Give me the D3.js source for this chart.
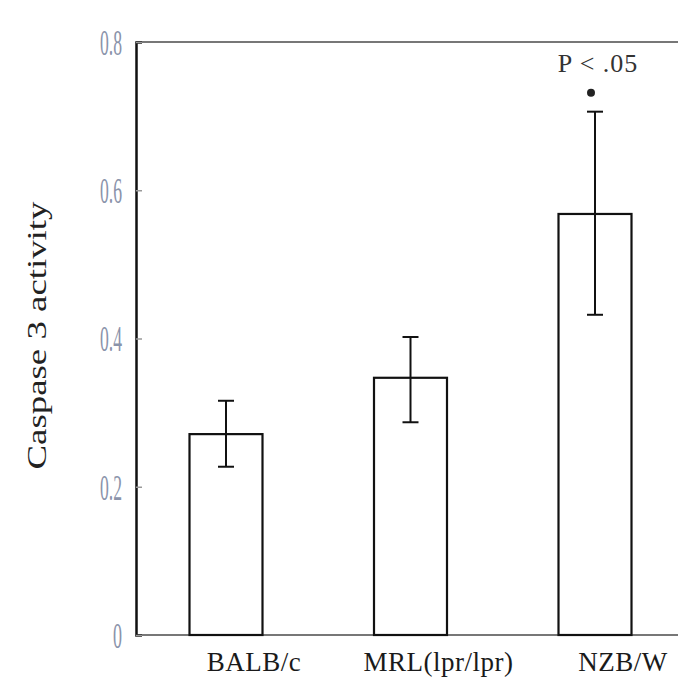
<!DOCTYPE html>
<meta charset="utf-8">
<style>
  body { margin: 0; background: #fff; }
  text { font-family: "Liberation Serif", "Times New Roman", serif; }
</style>
<svg id="chart" width="678" height="684"></svg>
<script src="https://d3js.org/d3.v7.min.js"></script>
<script>

var categories = ["BALB/c", "MRL(lpr/lpr)", "NZB/W"],
    means = [0.271, 0.347, 0.568],
    upper = [0.316, 0.402, 0.706],
    lower = [0.227, 0.287, 0.432],
    yTicks = [0, 0.2, 0.4, 0.6, 0.8],
    note = "P < .05",
    noteIndex = 2;

var svg = d3.select("#chart"),
    margin = {top: 42, right: 0, bottom: 49, left: 136},
    width = +svg.attr("width") - margin.left - margin.right,
    height = +svg.attr("height") - margin.top - margin.bottom,
    g = svg.append("g").attr("transform", "translate(" + margin.left + "," + margin.top + ")");

var x = d3.scalePoint()
    .domain(categories)
    .range([90, 459]);

var y = d3.scaleLinear()
    .domain([0, 0.8])
    .range([height, 0]);

var barWidth = 73,
    capWidth = 16;

var data = categories.map(function(c, i) {
  return {name: c, mean: means[i], hi: upper[i], lo: lower[i]};
});

// frame lines: top and bottom in grey
g.append("line")
    .attr("x1", 0).attr("x2", width)
    .attr("y1", 0).attr("y2", 0)
    .attr("stroke", "#777").attr("stroke-width", 2);

g.append("line")
    .attr("x1", 0).attr("x2", width)
    .attr("y1", height).attr("y2", height)
    .attr("stroke", "#777").attr("stroke-width", 2);

// y axis
var yAxis = g.append("g")
    .call(d3.axisLeft(y).tickValues(yTicks).tickSize(-6).tickPadding(14)
      .tickFormat(function(d) { return d === 0 ? "0" : d3.format(".1f")(d); }));

yAxis.select(".domain")
    .attr("stroke", "#111").attr("stroke-width", 2.5);

yAxis.selectAll(".tick line")
    .attr("stroke", "#999").attr("stroke-width", 1.5);

yAxis.selectAll(".tick text")
    .attr("font-size", 36)
    .attr("fill", "#8a93aa")
    .attr("dy", "0.34em")
    .attr("lengthAdjust", "spacingAndGlyphs")
    .attr("textLength", function(d) { return d === 0 ? 9 : 22; });

g.append("text")
    .attr("transform", "rotate(-90)")
    .attr("x", -height / 2 + 3)
    .attr("y", -90)
    .attr("text-anchor", "middle")
    .attr("font-size", 27)
    .attr("fill", "#222")
    .attr("lengthAdjust", "spacingAndGlyphs")
    .attr("textLength", 268)
    .text("Caspase 3 activity");

// bars
g.selectAll(".bar")
    .data(data)
  .enter().append("rect")
    .attr("class", "bar")
    .attr("x", function(d) { return x(d.name) - barWidth / 2; })
    .attr("y", function(d) { return y(d.mean); })
    .attr("width", barWidth)
    .attr("height", function(d) { return height - y(d.mean); })
    .attr("fill", "#fff")
    .attr("stroke", "#111")
    .attr("stroke-width", 2.2);

// error bars
var err = g.selectAll(".err")
    .data(data)
  .enter().append("g")
    .attr("class", "err")
    .attr("stroke", "#111")
    .attr("stroke-width", 2);

err.append("line")
    .attr("x1", function(d) { return x(d.name); })
    .attr("x2", function(d) { return x(d.name); })
    .attr("y1", function(d) { return y(d.hi); })
    .attr("y2", function(d) { return y(d.lo); });

err.append("line")
    .attr("x1", function(d) { return x(d.name) - capWidth / 2; })
    .attr("x2", function(d) { return x(d.name) + capWidth / 2; })
    .attr("y1", function(d) { return y(d.hi); })
    .attr("y2", function(d) { return y(d.hi); });

err.append("line")
    .attr("x1", function(d) { return x(d.name) - capWidth / 2; })
    .attr("x2", function(d) { return x(d.name) + capWidth / 2; })
    .attr("y1", function(d) { return y(d.lo); })
    .attr("y2", function(d) { return y(d.lo); });

// category labels
g.selectAll(".cat")
    .data(data)
  .enter().append("text")
    .attr("class", "cat")
    .attr("x", function(d) { return x(d.name) + 28; })
    .attr("y", height + 36)
    .attr("text-anchor", "middle")
    .attr("font-size", 27)
    .attr("letter-spacing", 0.5)
    .attr("fill", "#1a1a1a")
    .text(function(d) { return d.name; });

// significance mark
var s = data[noteIndex];

g.append("circle")
    .attr("cx", x(s.name) - 4)
    .attr("cy", y(s.hi) - 19)
    .attr("r", 4)
    .attr("fill", "#222");

g.append("text")
    .attr("x", x(s.name) + 3)
    .attr("y", y(s.hi) - 40)
    .attr("text-anchor", "middle")
    .attr("font-size", 26)
    .attr("letter-spacing", 1)
    .attr("fill", "#333")
    .text(note);

</script>
